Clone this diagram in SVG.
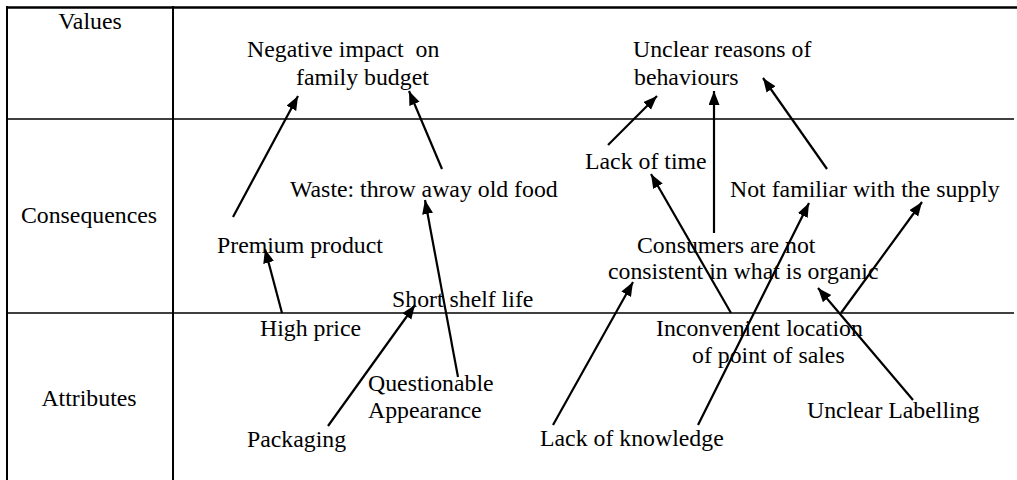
<svg xmlns="http://www.w3.org/2000/svg" width="1017" height="480" viewBox="0 0 1017 480">
<style>
text{font-family:"Liberation Serif","Times New Roman",serif;font-size:23.8px;fill:#000}
.c{text-anchor:middle}
.grid{stroke:#000;fill:none}
.arr{stroke:#000;stroke-width:2.2;fill:none;marker-end:url(#ah)}
</style>
<defs>
<marker id="ah" markerUnits="userSpaceOnUse" markerWidth="14" markerHeight="12" refX="14" refY="5.5" orient="auto">
<path d="M0,0 L14,5.5 L0,11 z" fill="#000"/>
</marker>
</defs>
<rect width="1017" height="480" fill="#fff"/>
<g id="table">
<line class="grid" x1="6" y1="7.5" x2="1017" y2="7.5" stroke-width="2.5"/>
<line class="grid" x1="7" y1="6" x2="7" y2="480" stroke-width="2"/>
<line class="grid" x1="173" y1="6" x2="173" y2="480" stroke-width="2"/>
<line class="grid" x1="7" y1="119" x2="1014" y2="119" stroke-width="1.6"/>
<line class="grid" x1="7" y1="313" x2="1014" y2="313" stroke-width="1.6"/>
</g>
<g id="row-labels">
<text class="c" x="90" y="29">Values</text>
<text class="c" x="89" y="223">Consequences</text>
<text class="c" x="89" y="406">Attributes</text>
</g>
<g id="n-negative"><text x="247" y="57" xml:space="preserve">Negative impact  on</text><text x="296" y="85">family budget</text></g>
<g id="n-unclear-reasons"><text x="633" y="57">Unclear reasons of</text><text x="634" y="85">behaviours</text></g>
<g id="n-lack-time"><text x="585" y="169">Lack of time</text></g>
<g id="n-waste"><text x="290" y="197">Waste: throw away old food</text></g>
<g id="n-not-familiar"><text x="730" y="197">Not familiar with the supply</text></g>
<g id="n-premium"><text x="217" y="253">Premium product</text></g>
<g id="n-consumers"><text x="637" y="253">Consumers are not</text><text x="608" y="279">consistent in what is organic</text></g>
<g id="n-shelf"><text x="392" y="307">Short shelf life</text></g>
<g id="n-high-price"><text x="260" y="336">High price</text></g>
<g id="n-inconvenient"><text x="656" y="336">Inconvenient location</text><text x="692" y="363">of point of sales</text></g>
<g id="n-questionable"><text x="368" y="391">Questionable</text><text x="368" y="418">Appearance</text></g>
<g id="n-labelling"><text x="807" y="418">Unclear Labelling</text></g>
<g id="n-packaging"><text x="247" y="447">Packaging</text></g>
<g id="n-knowledge"><text x="540" y="446">Lack of knowledge</text></g>
<g id="connectors">
<line class="arr" x1="233" y1="217" x2="298" y2="96"/>
<line class="arr" x1="442" y1="169" x2="409" y2="91"/>
<line class="arr" x1="608" y1="145" x2="657" y2="96"/>
<line class="arr" x1="714" y1="233" x2="714" y2="91"/>
<line class="arr" x1="827" y1="169" x2="763" y2="78"/>
<line class="arr" x1="282" y1="313" x2="265" y2="249"/>
<line class="arr" x1="458" y1="377" x2="425" y2="200"/>
<line class="arr" x1="328" y1="426" x2="415" y2="305"/>
<line class="arr" x1="553" y1="425" x2="633" y2="282"/>
<line class="arr" x1="731" y1="313" x2="651" y2="174"/>
<line class="arr" x1="698" y1="425" x2="809" y2="203"/>
<line class="arr" x1="913" y1="400" x2="818" y2="288"/>
<line class="arr" x1="841" y1="313" x2="922" y2="202"/>
</g>
</svg>
